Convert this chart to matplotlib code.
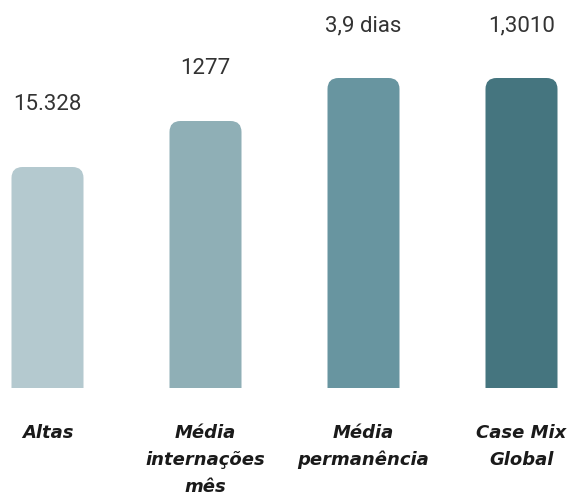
import matplotlib
matplotlib.use("Agg")
import matplotlib.pyplot as plt
from matplotlib.patches import PathPatch
from matplotlib.path import Path

# ---- data ----
categories = [["Altas"], ["Média", "internações", "mês"], ["Média", "permanência"], ["Case Mix", "Global"]]
value_labels = ["15.328", "1277", "3,9 dias", "1,3010"]
bar_heights = [221, 267, 310, 310]   # display heights (infographic, not to scale)
colors = ["#b4c9cf", "#8fafb6", "#6895a0", "#45757f"]

# ---- style ----
W, H, DPI = 569, 497, 100
spacing_px = 158.0
label_offsets = [62, 52, 52, 52]

fig = plt.figure(figsize=(W / DPI, H / DPI), dpi=DPI)
ax = fig.add_axes([0, 0, 1, 1])
ax.set_xlim(-47.5 / spacing_px, (W - 47.5) / spacing_px)
ax.set_ylim(-(H - 388), 388)
ax.axis("off")

x = list(range(len(bar_heights)))
bars = ax.bar(x, bar_heights, width=72 / spacing_px, color=colors)
rx = 11 / spacing_px
ry = 11
for b, c in zip(bars, colors):
    x0, y0, bw, bh = b.get_x(), b.get_y(), b.get_width(), b.get_height()
    x1, y1 = x0 + bw, y0 + bh
    b.remove()
    verts = [(x0, y0), (x1, y0), (x1, y1 - ry), (x1, y1), (x1 - rx, y1),
             (x0 + rx, y1), (x0, y1), (x0, y1 - ry), (x0, y0)]
    codes = [Path.MOVETO, Path.LINETO, Path.LINETO, Path.CURVE3, Path.CURVE3,
             Path.LINETO, Path.CURVE3, Path.CURVE3, Path.CLOSEPOLY]
    ax.add_patch(PathPatch(Path(verts, codes), fc=c, ec="none"))

for xi, h, lab, off in zip(x, bar_heights, value_labels, label_offsets):
    ax.text(xi, h + off, lab, ha="center", va="center", fontsize=16,
            family="Roboto", color="#333333")

for xi, lines in zip(x, categories):
    for i, line in enumerate(lines):
        ax.text(xi, -50 - 27 * i, line, ha="center", va="baseline", fontsize=13,
                family="DejaVu Sans", fontweight="bold", style="italic", color="#1a1a1a")

fig.savefig("out.png", dpi=DPI, facecolor="white")
